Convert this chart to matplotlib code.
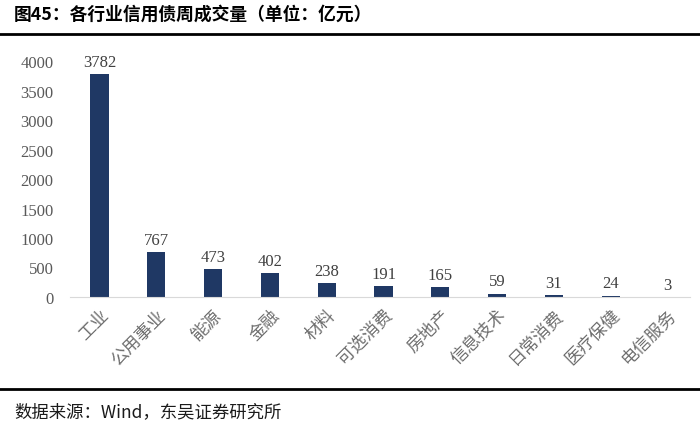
import matplotlib.pyplot as plt

plt.rcParams['font.family'] = ['Liberation Serif', 'Noto Sans CJK SC']

industries = ['工业', '公用事业', '能源', '金融', '材料', '可选消费',
              '房地产', '信息技术', '日常消费', '医疗保健', '电信服务']
volume = [3782, 767, 473, 402, 238, 191, 165, 59, 31, 24, 3]
yticks = [0, 500, 1000, 1500, 2000, 2500, 3000, 3500, 4000]

fig = plt.figure(figsize=(7, 4.31), dpi=100)
ax = fig.add_axes([0.1, 0.3086, 0.886, 0.5475])

x = range(len(industries))
bars = ax.bar(x, volume, width=0.32, color='#1f3864')
for xi, v in zip(x, volume):
    ax.text(xi, v + 70, str(v), ha='center', va='bottom', fontsize=12, color='#404040')

ax.set_xlim(-0.52, 10.4)
ax.set_ylim(0, 4000)
ax.set_yticks(yticks)
ax.tick_params(axis='y', length=0, labelsize=12, labelcolor='#595959', pad=12)
ax.tick_params(axis='x', length=0, pad=6)
ax.set_xticks(list(x))
ax.set_xticklabels(industries, rotation=45, ha='right', va='top',
                   rotation_mode='anchor', fontsize=12.5, color='#6e6e6e',
                   family=['Noto Sans CJK SC'])
for s in ['top', 'right', 'left']:
    ax.spines[s].set_visible(False)
ax.spines['bottom'].set_color('#d9d9d9')

fig.text(0.02, 0.965, '图45：各行业信用债周成交量（单位：亿元）', fontsize=12.8,
         fontweight='bold', va='center', ha='left', color='black',
         family=['Noto Sans CJK SC'])
fig.add_artist(plt.Line2D([0, 1], [0.918, 0.918], color='black', lw=2, transform=fig.transFigure))
fig.add_artist(plt.Line2D([0, 1], [0.095, 0.095], color='black', lw=2, transform=fig.transFigure))
fig.text(0.02, 0.044, '数据来源：Wind，东吴证券研究所', fontsize=12.5, va='center', ha='left',
         color='#1a1a1a', family=['Noto Sans CJK SC', 'Liberation Serif'])

fig.savefig('out.png', dpi=100)
